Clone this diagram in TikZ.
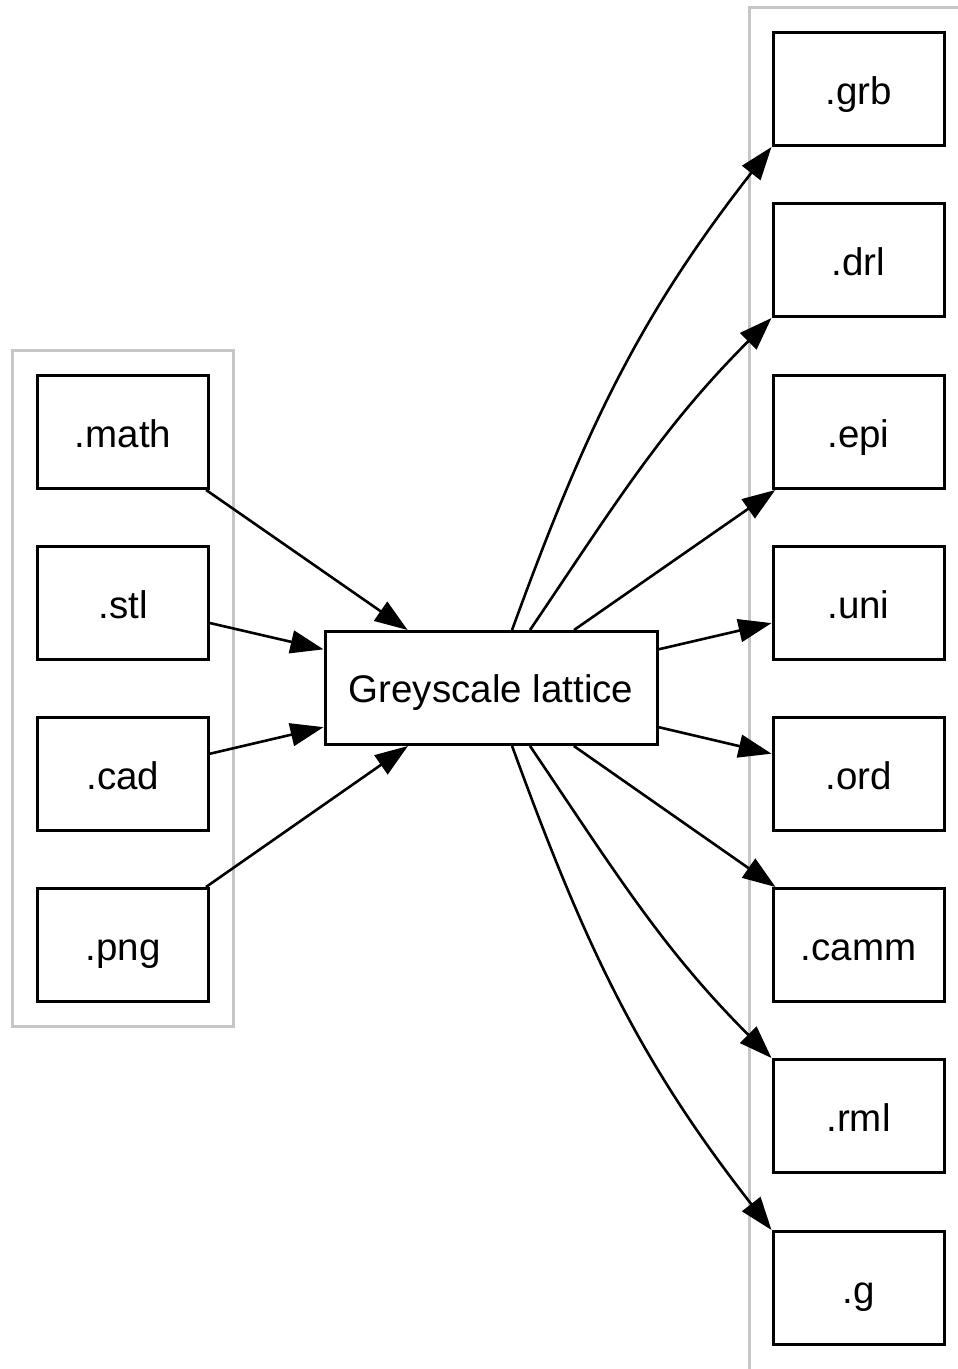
\documentclass[tikz,border=0pt]{standalone}
\usepackage{fontspec}
\setmainfont{Liberation Sans}
\usetikzlibrary{arrows.meta}
\definecolor{clustergrey}{RGB}{198,198,198}
\begin{document}
\begin{tikzpicture}[x=1pt,y=-1pt,
  fmt/.style={draw, line width=3pt, minimum width=171pt, minimum height=113pt,
    inner sep=0pt, text height=31pt, text depth=0pt,
    font=\fontsize{38.5}{46}\selectfont},
  hub/.style={fmt, minimum width=332pt, text height=29pt},
  cluster/.style={draw=clustergrey, line width=3pt},
  flow/.style={line width=2.6pt, -{Triangle[length=33pt,width=23pt]}}]
\useasboundingbox (0,0) rectangle (958,1369);
\clip (0,0) rectangle (958,1369);

% input and output groups
\draw[cluster] (12.5,350) rectangle (233,1026);
\draw[cluster] (749,7.5) rectangle (990,1400);

% input formats
\node[fmt] (math) at (123,432) {.math};
\node[fmt] (stl)  at (123,603) {.stl};
\node[fmt] (cad)  at (123,774) {.cad};
\node[fmt] (png)  at (123,945) {.png};

% central representation
\node[hub] (lat) at (491,688) {Greyscale lattice};

% output formats
\node[fmt] (grb)  at (858.5,89)   {.grb};
\node[fmt] (drl)  at (858.5,260)  {.drl};
\node[fmt] (epi)  at (858.5,432)  {.epi};
\node[fmt] (uni)  at (858.5,603)  {.uni};
\node[fmt] (ord)  at (858.5,774)  {.ord};
\node[fmt] (camm) at (858.5,945)  {.camm};
\node[fmt] (rml)  at (858.5,1116) {.rml};
\node[fmt] (g)    at (858.5,1288) {.g};

% inputs into the lattice
\draw[flow] (math) -- (lat);
\draw[flow] (stl) -- (lat);
\draw[flow] (cad) -- (lat);
\draw[flow] (png) -- (lat);

% lattice out to the outputs
\draw[flow] (lat) to[out=70,in=232] (grb.south west);
\draw[flow] (lat) to[out=56,in=225] (drl.south west);
\draw[flow] (lat) -- (epi);
\draw[flow] (lat) -- (uni);
\draw[flow] (lat) -- (ord);
\draw[flow] (lat) -- (camm);
\draw[flow] (lat) to[out=-56,in=135] (rml.north west);
\draw[flow] (lat) to[out=-70,in=128] (g.north west);
\end{tikzpicture}
\end{document}
